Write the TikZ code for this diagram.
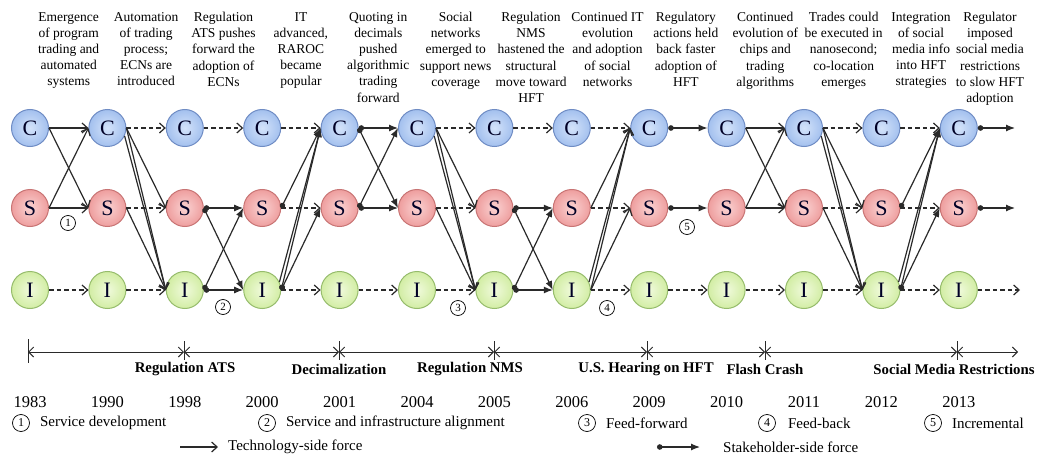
\documentclass[tikz,border=0pt]{standalone}
\usepackage{fontspec}
\setmainfont{Liberation Serif}
\usetikzlibrary{arrows.meta}

\definecolor{cedge}{HTML}{6F8CC4}
\definecolor{cin}{HTML}{D4E3FA}
\definecolor{cout}{HTML}{A3C0EE}
\definecolor{sedge}{HTML}{C87474}
\definecolor{sin}{HTML}{FAD2D2}
\definecolor{sout}{HTML}{EE9E9E}
\definecolor{iedge}{HTML}{96BC6C}
\definecolor{iin}{HTML}{F0FADC}
\definecolor{iout}{HTML}{D2EDA4}
\definecolor{forcegray}{HTML}{2A2A2A}

\tikzset{
  stage/.style={circle, minimum size=37pt, inner sep=0pt, line width=1pt,
    text=black!85!blue, font=\fontsize{22}{22}\selectfont},
  cstage/.style={stage, draw=cedge, inner color=cin, outer color=cout},
  sstage/.style={stage, draw=sedge, inner color=sin, outer color=sout},
  istage/.style={stage, draw=iedge, inner color=iin, outer color=iout},
  force/.style={draw=forcegray, line width=1.2pt},
  tech/.style={force, -{Straight Barb[length=5.5pt,width=10pt]}},
  stake/.style={force, {Circle[length=5.5pt]}-{Latex[length=9pt,width=7pt]}},
  stakehead/.style={force, -{Latex[length=9pt,width=7pt]}},
  still/.style={force, dash pattern=on 4.5pt off 3pt, -{Straight Barb[length=5.5pt,width=10pt]}},
  span/.style={force, line width=1pt,
    {Straight Barb[length=5pt,width=10pt]}-{Straight Barb[length=5pt,width=10pt]}},
  mode/.style={circle, draw, line width=0.7pt, inner sep=0pt, minimum size=15pt,
    font=\fontsize{11}{11}\selectfont},
  bigmode/.style={mode, minimum size=17pt, font=\fontsize{12}{12}\selectfont},
  note/.style={align=center, anchor=north, inner sep=0pt,
    font=\fontsize{13.5}{16.2}\selectfont},
  event/.style={font=\bfseries\fontsize{14.8}{16}\selectfont},
  year/.style={font=\fontsize{16.5}{18}\selectfont},
  legend/.style={anchor=west, inner sep=0pt, font=\fontsize{15}{17}\selectfont}
}

\begin{document}
\begin{tikzpicture}[x=1pt,y=-1pt]
  \useasboundingbox (0,0) rectangle (1039,460);

  % the three rows of stages
  \foreach \k in {1,...,13} {
    \node[cstage] (C\k) at ({30+(\k-1)*77.4},128) {C};
    \node[sstage] (S\k) at ({30+(\k-1)*77.4},208) {S};
    \node[istage] (I\k) at ({30+(\k-1)*77.4},290) {I};
  }

  % what happened in each period
  \node[note] (n1) at (68.7,12) {Emergence\\of program\\trading and\\automated\\systems};
  \node[note] (n2) at (146.1,12) {Automation\\of trading\\process;\\ECNs are\\introduced};
  \node[note] (n3) at (223.5,12) {Regulation\\ATS pushes\\forward the\\adoption of\\ECNs};
  \node[note] (n4) at (300.9,12) {IT\\advanced,\\RAROC\\became\\popular};
  \node[note] (n5) at (378.3,12) {Quoting in\\decimals\\pushed\\algorithmic\\trading\\forward};
  \node[note] (n6) at (455.7,12) {Social\\networks\\emerged to\\support news\\coverage};
  \node[note] (n7) at (531.1,12) {Regulation\\NMS\\hastened the\\structural\\move toward\\HFT};
  \node[note] (n8) at (607.5,12) {Continued IT\\evolution\\and adoption\\of social\\networks};
  \node[note] (n9) at (685.9,12) {Regulatory\\actions held\\back faster\\adoption of\\HFT};
  \node[note] (n10) at (765.3,12) {Continued\\evolution of\\chips and\\trading\\algorithms};
  \node[note] (n11) at (843.7,12) {Trades could\\be executed in\\nanosecond;\\co-location\\emerges};
  \node[note] (n12) at (921.1,12) {Integration\\of social\\media info\\into HFT\\strategies};
  \node[note] (n13) at (990,12) {Regulator\\imposed\\social media\\restrictions\\to slow HFT\\adoption};

  % technology-side forces
  \foreach \a/\b in {C1/C2, C1/S2, S1/C2, S1/S2,
                     C2/S3, C2/I3, S2/I3,
                     C6/S7, C6/I7, S6/I7,
                     I8/C9, I8/S9, S8/C9,
                     C10/C11, C10/S11, S10/C11, S10/S11,
                     C11/S12, C11/I12, S11/I12}
    \draw[tech] (\a.east) -- (\b.west);
  \foreach \a/\b/\ang in {C2/I3/-25, C6/I7/-25, C11/I12/-25, I8/C9/25}
    \draw[tech] (\a.\ang) -- (\b.west);

  % stakeholder-side forces
  \foreach \a/\b in {S3/S4, S3/I4, I3/S4, I3/I4,
                     I4/C5, I4/S5, S4/C5,
                     C5/C6, C5/S6, S5/C6, S5/S6,
                     S7/S8, S7/I8, I7/S8, I7/I8,
                     C9/C10, S9/S10,
                     I12/C13, I12/S13, S12/C13}
    \draw[stake] (\a.east) -- (\b.west);
  \foreach \a/\b in {I4/C5, I12/C13}
    \draw[stakehead] (\a.25) -- (\b.west);

  % no force, the stage carries on
  \foreach \a/\b in {I1/I2, C2/C3, S2/S3, I2/I3, C3/C4,
                     C4/C5, S4/S5, I4/I5, I5/I6,
                     C6/C7, S6/S7, I6/I7, C7/C8,
                     C8/C9, S8/S9, I8/I9, I9/I10, I10/I11,
                     C11/C12, S11/S12, I11/I12,
                     C12/C13, S12/S13, I12/I13}
    \draw[still] (\a.east) -- (\b.west);

  \coordinate (Cend) at (1015,128);
  \coordinate (Send) at (1015,208);
  \coordinate (Iend) at (1020,290);
  \draw[stake] (C13.east) -- (Cend);
  \draw[stake] (S13.east) -- (Send);
  \draw[still] (I13.east) -- (Iend);

  % kinds of co-evolution
  \node[mode] (m1) at (68,223) {1};
  \node[mode] (m2) at (223,307) {2};
  \node[mode] (m3) at (458,308) {3};
  \node[mode] (m4) at (607,308) {4};
  \node[mode] (m5) at (687,227) {5};

  % timeline
  \coordinate (t0) at (28,352);
  \coordinate (t1) at (184,352);
  \coordinate (t2) at (339,352);
  \coordinate (t3) at (494,352);
  \coordinate (t4) at (647,352);
  \coordinate (t5) at (765,352);
  \coordinate (t6) at (957,352);
  \coordinate (tend) at (1018,352);
  \draw[span] (t0) -- (t1);
  \draw[span] (t1) -- (t2);
  \draw[span] (t2) -- (t3);
  \draw[span] (t3) -- (t4);
  \draw[span] (t4) -- (t5);
  \draw[span] (t5) -- (t6);
  \draw[span] (t6) -- (tend);
  \draw[force, line width=1pt] ([yshift=13pt]t0) -- ([yshift=-11pt]t0);
  \foreach \t in {t1,t2,t3,t4,t5,t6}
    \draw[force, line width=1pt] ([yshift=11pt]\t) -- ([yshift=-8pt]\t);

  \node[event] (e1) at (185,369) {Regulation ATS};
  \node[event] (e2) at (339,369) {Decimalization};
  \node[event] (e3) at (470,369) {Regulation NMS};
  \node[event] (e4) at (646,369) {U.S. Hearing on HFT};
  \node[event] (e5) at (765,369) {Flash Crash};
  \node[event] (e6) at (954,369) {Social Media Restrictions};

  \foreach \yr [count=\k] in {1983,1990,1998,2000,2001,2004,2005,2006,2009,2010,2011,2012,2013}
    \node[year] (y\k) at ({30+(\k-1)*77.4},402) {\yr};

  % legend
  \node[bigmode] (l1) at (21,423) {1};
  \node[legend] (l1t) at ([xshift=10pt]l1.east) {Service development};
  \node[bigmode] (l2) at (267,423) {2};
  \node[legend] (l2t) at ([xshift=10pt]l2.east) {Service and infrastructure alignment};
  \node[bigmode] (l3) at (587,423) {3};
  \node[legend] (l3t) at ([xshift=10pt]l3.east) {Feed-forward};
  \node[bigmode] (l4) at (767,423) {4};
  \node[legend] (l4t) at ([xshift=12pt]l4.east) {Feed-back};
  \node[bigmode] (l5) at (933,423) {5};
  \node[legend] (l5t) at ([xshift=10pt]l5.east) {Incremental};

  \coordinate (ka) at (180,447);
  \coordinate (kb) at (218,447);
  \draw[tech] (ka) -- (kb);
  \node[legend] (kt) at (228,447) {Technology-side force};
  \coordinate (sa) at (657,447);
  \coordinate (sb) at (700,447);
  \draw[stake] (sa) -- (sb);
  \node[legend] (st) at (723,447) {Stakeholder-side force};
\end{tikzpicture}
\end{document}
